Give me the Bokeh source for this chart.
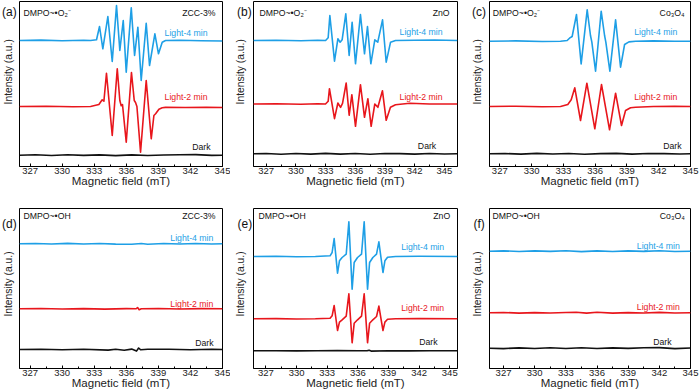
import math
from bokeh.plotting import figure
from bokeh.layouts import row, column
from bokeh.models import Range1d, Label, FixedTicker
from bokeh.embed import file_html
from bokeh.resources import INLINE

# ---------------- data ----------------
# x: magnetic field (mT); y: intensity relative to each trace's own baseline (a.u.)
tick_values = [327, 330, 333, 336, 339, 342, 345]
minor_tick_values = [328.5, 331.5, 334.5, 337.5, 340.5, 343.5]

# (a) ZCC-3%, DMPO-O2
a_blue_field = [326.0, 328.0, 330.0, 332.0, 332.65, 333.21, 333.49, 333.80, 334.27, 334.68, 335.08, 335.39,
                335.71, 335.99, 336.46, 336.77, 337.08, 337.39, 337.86, 338.17, 338.67, 339.01, 339.36, 339.67,
                341.0, 343.0, 345.0]
a_blue_int = [0, 0.4, -0.3, 0.3, 0, 0.7, 14, -8.3, 24, -21, 35, -10, 20, -31.7, 32.7, -15, 13.3, -40, 17.3,
              -25, 6.7, -13.3, -1.7, 0, 0.3, -0.3, -0.5]
a_red_field = [326.0, 328.5, 331.0, 332.65, 333.43, 333.74, 333.90, 334.14, 334.68, 335.15, 335.39, 335.52,
               335.64, 335.99, 336.48, 336.74, 336.86, 336.99, 337.33, 337.86, 338.33, 338.58, 338.74, 339.05,
               339.36, 339.67, 341.5, 343.5, 345.0]
a_red_int = [0, 0.3, -0.3, 0, 2, 6.7, 5.3, 33.3, -29, 37.7, 6, 0.7, 2, -35.7, 34, 6, 4, 0, -45.7, 26, -32.3,
             -9, -7.3, -2.7, -1.3, -0.9, -1.0, -0.7, -1.0]
a_dark_field = [326, 327.5, 329, 330.5, 332, 333.5, 335, 336.5, 338, 339.5, 341, 342.5, 344, 345]
a_dark_int = [0, 0.4, -0.3, 0.4, -0.2, 0.3, -0.4, 0.3, -0.3, 0.2, 0.4, 0.6, -0.2, 0]

# (b) ZnO, DMPO-O2
b_blue_field = [325.7, 328.0, 330.5, 332.2, 333.0, 333.26, 333.43, 333.90, 334.24, 334.47, 334.67, 335.04,
                335.38, 335.68, 336.02, 336.52, 336.93, 337.23, 337.57, 337.97, 338.27, 338.75, 339.12, 339.56,
                340.06, 342.0, 344.0, 346.3]
b_blue_int = [0, 0.3, -0.3, 0.2, 0, 2.7, 25, -20.7, 1.7, -1.7, 0.7, 26.7, -15, 18.3, -23.3, 26, -13.3, 14,
              -23.3, 0.7, -1.7, 20.7, -21.7, -1.7, 0, 0.3, 0.5, 0]
b_red_field = [325.7, 328.0, 330.5, 332.2, 332.99, 333.26, 333.39, 333.90, 334.24, 334.51, 334.71, 335.08,
               335.38, 335.65, 336.02, 336.52, 336.93, 337.27, 337.60, 337.97, 338.28, 338.74, 339.12, 339.55,
               340.06, 341.5, 343.5, 346.3]
b_red_int = [0, 0.3, -0.3, 0.2, 0, 2.7, 15.3, -14.7, 1, -3.3, 0.7, 21, -11.3, 9.3, -22.3, 19.3, -13.3, 5.3,
             -22.3, 0, -3.3, 13.3, -16.3, -3.3, -0.7, 0.8, 0, 0]
b_dark_field = [325.7, 327, 328.5, 330, 331.5, 333, 334.5, 336, 337.5, 339, 340.5, 342, 343.5, 345, 346.3]
b_dark_int = [0, 0.3, -0.4, 0.3, -0.3, 0.4, -0.3, 0.3, -0.4, 0.3, 0.2, -0.3, 0.3, -0.2, 0]

# (c) Co3O4, DMPO-O2
c_blue_field = [326.03, 328.5, 331.0, 332.73, 333.36, 333.58, 333.83, 334.24, 334.68, 335.25, 335.56, 335.69,
                336.04, 336.57, 336.89, 337.01, 337.39, 337.93, 338.40, 338.78, 339.19, 339.82, 341.5, 343.5, 345.0]
c_blue_int = [0, 0.3, -0.3, 0, 0.7, 3, 4.7, 26.7, -22.7, 31.3, 5.7, -1, -30, 30, 5.7, -1, -30, 21.3, -26,
              -3.3, -0.7, 0, 0.3, 0, 0]
c_red_field = [326.03, 328.5, 331.0, 332.73, 333.42, 333.74, 334.08, 334.62, 335.22, 335.97, 336.60, 337.36,
               337.93, 338.49, 338.87, 339.34, 339.82, 341.5, 343.5, 345.0]
c_red_int = [0, 0.3, -0.3, 0, 2, 6.7, 18.7, -14, 23.3, -22.3, 22, -23.3, 13.3, -19, -4, -1.3, -0.7, 0, 0.3, 0]
c_dark_field = [326.03, 327.5, 329, 330.5, 332, 333.5, 335, 336.5, 338, 339.5, 341, 342.5, 344, 345]
c_dark_int = [0, 0.3, -0.3, 0.4, -0.2, 0.3, -0.4, 0.2, 0.4, -0.3, 0.3, 0.2, -0.2, 0]

# (d) ZCC-3%, DMPO-OH
d_blue_field = [326, 327.5, 329, 330.5, 332, 333.5, 335, 336.5, 337.4, 338, 339.5, 341, 342.5, 344, 345]
d_blue_int = [0, 0.3, -0.2, 0.4, -0.2, 0.3, -0.3, -0.5, 0.3, -0.4, 0.3, -0.2, 0.3, -0.2, 0]
d_red_field = [326, 328, 330, 332, 334, 336, 336.9, 337.05, 337.2, 337.4, 339, 341, 343, 345]
d_red_int = [0, 0.3, -0.2, 0.2, -0.3, 0.2, 0, 1.3, -1.0, 0, 0.3, -0.2, 0.2, 0]
d_dark_field = [326, 328, 330, 332, 334.3, 335.0, 335.8, 336.5, 336.95, 337.15, 337.35, 338, 340, 342, 344, 345]
d_dark_int = [0, 0.3, -0.2, 0.2, -0.6, 0.2, -0.8, 0.4, -1.6, 1.5, -0.3, 0.3, 0.2, -0.2, 0.3, 0]

# (e) ZnO, DMPO-OH
e_blue_field = [325.8, 328.0, 330.0, 331.84, 333.28, 333.48, 333.68, 334.01, 334.20, 334.46, 334.86, 335.12,
                335.44, 335.64, 335.97, 336.36, 336.62, 336.95, 337.15, 337.47, 337.83, 338.06, 338.46, 338.65,
                338.91, 339.70, 342.0, 345.76]
e_blue_int = [0, 0.2, -0.2, 0, 0.7, 4, 18, -16.7, -4.3, -1, 2.3, 34.7, -32.7, -6, -1, 2.3, 34.7, -32.7, -6,
              -1, 2.3, 14.7, -16, -4.3, -0.7, 0, 0.2, 0]
e_red_field = [325.8, 328.0, 330.0, 331.84, 333.28, 333.48, 333.68, 334.01, 334.20, 334.46, 334.86, 335.12,
               335.44, 335.64, 335.97, 336.36, 336.62, 336.95, 337.15, 337.47, 337.83, 338.06, 338.46, 338.65,
               338.91, 339.70, 342.0, 345.76]
e_red_int = [0, 0.2, -0.2, 0, 0.5, 3, 13.3, -11.7, -3.3, -1, 2.7, 25, -24, -4.5, -1, 2.7, 25, -24, -4.5, -1,
             2.3, 12.7, -11.7, -3.3, -0.5, 0, 0.2, 0]
e_dark_field = [325.8, 328, 330, 332, 334, 336, 336.9, 337.1, 337.3, 339, 341, 343, 345.76]
e_dark_int = [0, 0.1, -0.1, 0.1, 0.2, 0.1, 0, 0.6, -0.3, 0.1, -0.1, 0.1, 0]

# (f) Co3O4, DMPO-OH
f_blue_field = [325.65, 327, 328.5, 330, 331.5, 333, 334.5, 336, 337.5, 339, 340.5, 342, 343.5, 345]
f_blue_int = [0, 0.3, -0.3, 0.3, -0.2, 0.4, -0.4, 0.3, -0.3, 0.3, -0.2, 0.4, -0.3, 0]
f_red_field = [325.65, 327, 328.5, 330, 331.5, 333, 334, 335, 336, 337.5, 339, 340.5, 342, 343.5, 345]
f_red_int = [0, 0.3, -0.3, 0.2, -0.2, 0.3, 0.6, -0.3, 0.6, -0.3, 0.2, -0.2, 0.4, -0.2, 0]
f_dark_field = [325.65, 327, 328.5, 330, 331.5, 333, 334.5, 336, 337.5, 339, 340.5, 342, 343.5, 345]
f_dark_int = [0, -0.4, 0.3, -0.3, 0.4, -0.3, 0.4, -0.3, 0.3, -0.2, 0.5, 0.6, -0.4, 0.2]

panel_letters = ["(a)", "(b)", "(c)", "(d)", "(e)", "(f)"]
panel_probe = ["DMPO~\u2022O\u2082\u207b"] * 3 + ["DMPO~\u2022OH"] * 3
panel_sample = ["ZCC-3%", "ZnO", "Co\u2083O\u2084", "ZCC-3%", "ZnO", "Co\u2083O\u2084"]
trace_names = ["Light-4 min", "Light-2 min", "Dark"]
y_title = "Intensity (a.u.)"
x_title = "Magnetic field (mT)"

# ---------------- layout / style ----------------
BLUE = "#1E9FE6"
RED = "#E8161C"
BLACK = "#111111"
TXT = "#222222"
FONT = "Liberation Sans"

panels = [
    dict(field=[a_blue_field, a_red_field, a_dark_field], inten=[a_blue_int, a_red_int, a_dark_int],
         base=[126, 60, 11.3], xr=(326.0, 345.0), yr=(0, 165), w=230, h=196, gw=18, br=8, bt=1, bb=30,
         lab_x=[343.6, 343.6, 343.88], lab_y=[134, 70, 20], hx=(326.37, 344.35), hy=154,
         let=(1.5, 183.3), yl=(8, 112.5)),
    dict(field=[b_blue_field, b_red_field, b_dark_field], inten=[b_blue_int, b_red_int, b_dark_int],
         base=[126, 62.5, 12.7], xr=(325.72, 346.32), yr=(0, 165), w=230, h=196, gw=22, br=3, bt=1, bb=30,
         lab_x=[344.81, 344.81, 344.17], lab_y=[134.3, 70, 21], hx=(326.32, 345.52), hy=154,
         let=(6.5, 183.3), yl=(10, 112.5)),
    dict(field=[c_blue_field, c_red_field, c_dark_field], inten=[c_blue_int, c_red_int, c_dark_int],
         base=[125.3, 60, 12.7], xr=(326.03, 345.0), yr=(0, 165), w=240, h=196, gw=28, br=10, bt=1, bb=30,
         lab_x=[343.75, 343.75, 344.16], lab_y=[134.3, 70, 21], hx=(326.34, 344.44), hy=154,
         let=(11.5, 183.3), yl=(17.3, 112.5)),
    dict(field=[d_blue_field, d_red_field, d_dark_field], inten=[d_blue_int, d_red_int, d_dark_int],
         base=[124.7, 59.7, 19], xr=(326.0, 345.0), yr=(0, 160), w=230, h=195, gw=18, br=8, bt=12, bb=23,
         lab_x=[344.14, 344.14, 344.16], lab_y=[130.3, 64.7, 25.3], hx=(326.37, 344.35), hy=153,
         let=(1.5, 176), yl=(8, 103)),
    dict(field=[e_blue_field, e_red_field, e_dark_field], inten=[e_blue_int, e_red_int, e_dark_int],
         base=[112, 49.7, 17.7], xr=(325.78, 345.76), yr=(0, 160), w=230, h=195, gw=22, br=3, bt=12, bb=23,
         lab_x=[344.45, 344.45, 343.8], lab_y=[122, 60.7, 26.3], hx=(326.27, 345.04), hy=153,
         let=(7, 176), yl=(10, 103)),
    dict(field=[f_blue_field, f_red_field, f_dark_field], inten=[f_blue_int, f_red_int, f_dark_int],
         base=[117.3, 55.7, 20.3], xr=(325.65, 345.0), yr=(0, 160), w=240, h=195, gw=28, br=10, bt=12, bb=23,
         lab_x=[343.97, 343.97, 343.17], lab_y=[123, 62, 27], hx=(325.94, 344.45), hy=153,
         let=(13, 176), yl=(17.3, 103)),
]
colors = [BLUE, RED, BLACK]


def make_gutter(i, spec):
    g = figure(width=spec["gw"], height=spec["h"], x_range=Range1d(0, spec["gw"]),
               y_range=Range1d(0, spec["h"]), output_backend="svg", toolbar_location=None,
               x_axis_location=None, y_axis_location=None,
               min_border_left=0, min_border_right=0, min_border_top=0, min_border_bottom=0)
    g.grid.visible = False
    g.outline_line_color = None
    g.add_layout(Label(x=spec["let"][0], y=spec["let"][1], text=panel_letters[i], text_align="left",
                       text_baseline="middle", text_font=FONT, text_font_size="12px", text_color=BLACK))
    g.add_layout(Label(x=spec["yl"][0], y=spec["yl"][1], text=y_title, angle=math.pi / 2,
                       text_align="center", text_baseline="middle", text_font=FONT,
                       text_font_size="10.3px", text_color=TXT))
    return g


def make_panel(i, spec):
    p = figure(width=spec["w"] - spec["gw"], height=spec["h"],
               x_range=Range1d(*spec["xr"]), y_range=Range1d(*spec["yr"]),
               output_backend="svg", toolbar_location=None, y_axis_location=None,
               min_border_left=1, min_border_right=spec["br"],
               min_border_top=spec["bt"], min_border_bottom=spec["bb"])
    p.grid.visible = False
    p.outline_line_color = "black"
    p.outline_line_width = 1
    p.outline_line_alpha = 1

    xa = p.xaxis[0]
    xa.ticker = FixedTicker(ticks=tick_values, minor_ticks=minor_tick_values)
    xa.major_tick_in = 3
    xa.major_tick_out = 0
    xa.minor_tick_in = 2
    xa.minor_tick_out = 0
    xa.axis_line_color = "black"
    xa.major_tick_line_color = "black"
    xa.minor_tick_line_color = "black"
    xa.major_label_text_font = FONT
    xa.major_label_text_font_size = "9.5px"
    xa.major_label_text_color = TXT
    xa.major_label_standoff = 1
    xa.axis_label = x_title
    xa.axis_label_text_font = FONT
    xa.axis_label_text_font_size = "11.5px"
    xa.axis_label_text_font_style = "normal"
    xa.axis_label_text_color = TXT
    xa.axis_label_standoff = -2

    for k in range(3):
        xs = spec["field"][k]
        ys = [spec["base"][k] + v for v in spec["inten"][k]]
        p.line(xs, ys, line_color=colors[k], line_width=1.6, line_join="round")
        p.add_layout(Label(x=spec["lab_x"][k], y=spec["lab_y"][k], text=trace_names[k],
                           text_align="right", text_baseline="middle", text_font=FONT,
                           text_font_size="8.7px", text_color=colors[k]))

    p.add_layout(Label(x=spec["hx"][0], y=spec["hy"], text=panel_probe[i], text_align="left",
                       text_baseline="middle", text_font=FONT, text_font_size="8.7px", text_color=BLACK))
    p.add_layout(Label(x=spec["hx"][1], y=spec["hy"], text=panel_sample[i], text_align="right",
                       text_baseline="middle", text_font=FONT, text_font_size="8.7px", text_color=BLACK))
    return p


cells = []
for i, s in enumerate(panels):
    cells.append(make_gutter(i, s))
    cells.append(make_panel(i, s))

layout = column(row(*cells[:6]), row(*cells[6:]))

open("out.html", "w").write(file_html(layout, INLINE))
